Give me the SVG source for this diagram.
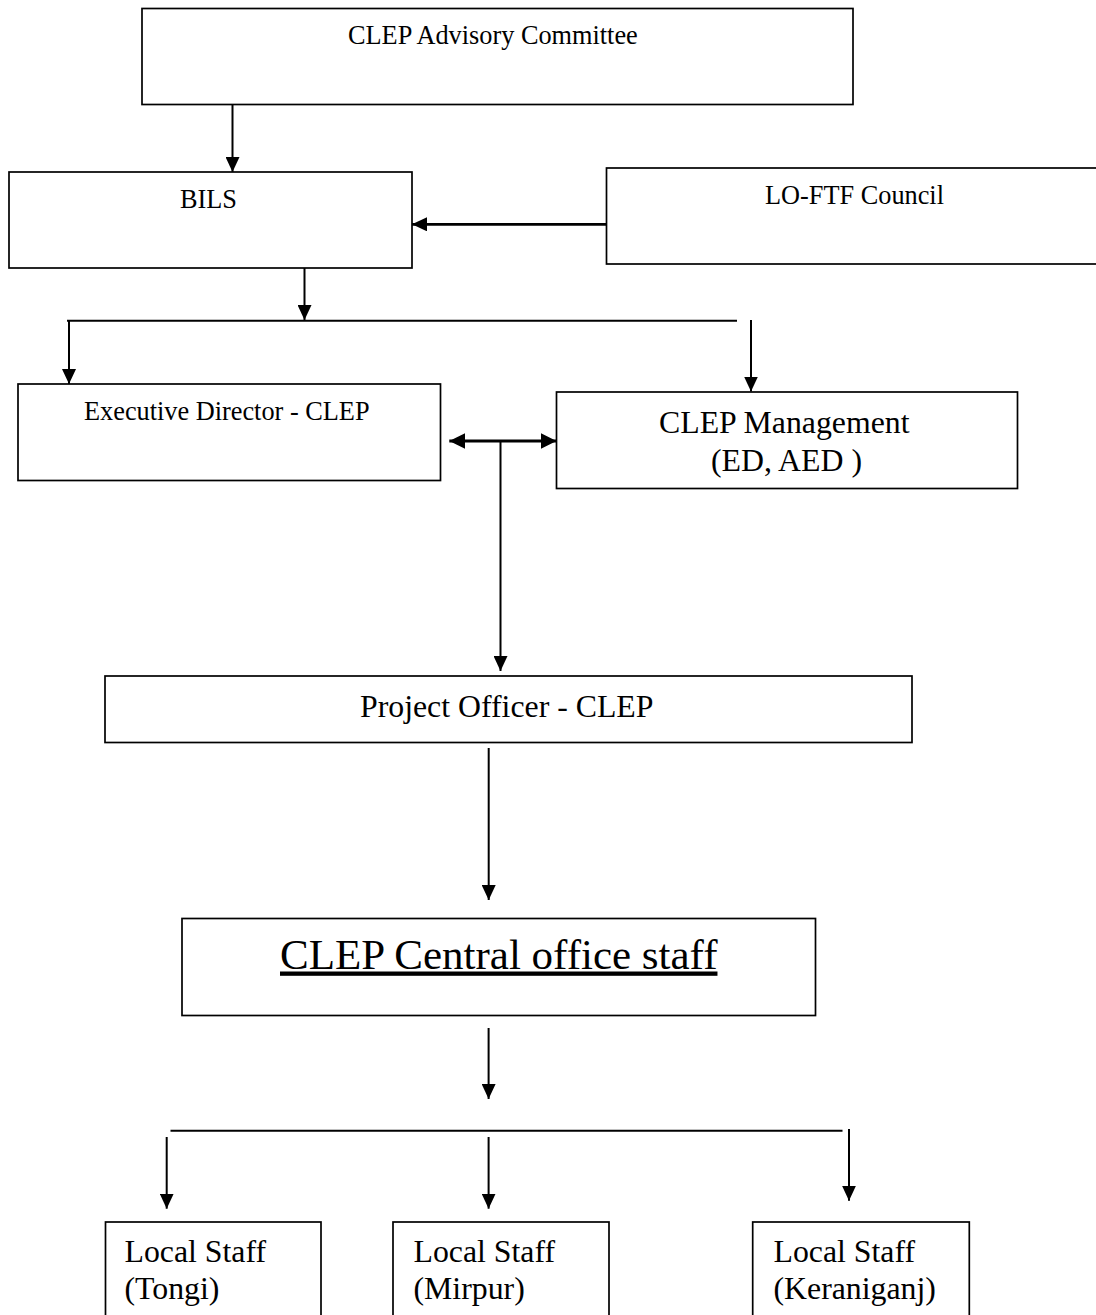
<svg xmlns="http://www.w3.org/2000/svg" width="1096" height="1315" viewBox="0 0 1096 1315">
<style>
.box{fill:#fff;stroke:#000;stroke-width:1.7}
.t{font-family:"Liberation Serif","Times New Roman",serif;fill:#000}
.s{font-size:26.3px}
.m{font-size:31.8px}
.l{font-size:43px}
.c{stroke:#000;stroke-width:2;fill:none}
.ct{stroke:#000;stroke-width:2.8;fill:none}
</style>
<defs>
<marker id="ah" markerUnits="userSpaceOnUse" markerWidth="15" markerHeight="14" refX="15" refY="7" orient="auto" viewBox="0 0 15 14">
<path d="M0,0 L15,7 L0,14 z" fill="#000"/>
</marker>
<marker id="ahb" markerUnits="userSpaceOnUse" markerWidth="16" markerHeight="16" refX="16" refY="8" orient="auto-start-reverse" viewBox="0 0 16 16">
<path d="M0,0 L16,8 L0,16 z" fill="#000"/>
</marker>
</defs>
<rect width="1096" height="1315" fill="#fff"/>
<g id="advisory">
<rect class="box" x="142" y="8.5" width="711" height="96"/>
<text class="t s" x="348" y="43.5">CLEP Advisory Committee</text>
</g>
<g id="bils">
<rect class="box" x="9" y="172" width="403" height="96"/>
<text class="t s" x="180" y="208">BILS</text>
</g>
<g id="loftf">
<rect class="box" x="606.5" y="168" width="520" height="96"/>
<text class="t s" x="765" y="204">LO-FTF Council</text>
</g>
<g id="ed">
<rect class="box" x="18" y="384" width="422.5" height="96.5"/>
<text class="t s" x="84" y="419.5">Executive Director - CLEP</text>
</g>
<g id="mgmt">
<rect class="box" x="556.5" y="392" width="461" height="96.5"/>
<text class="t m" x="659" y="432.5">CLEP Management</text>
<text class="t m" x="711" y="470.5">(ED, AED )</text>
</g>
<g id="po">
<rect class="box" x="105" y="676" width="807" height="66.5"/>
<text class="t m" x="360" y="716.5">Project Officer - CLEP</text>
</g>
<g id="central">
<rect class="box" x="182" y="918.5" width="633.5" height="97"/>
<text class="t l" x="280" y="968.5" text-decoration="underline">CLEP Central office staff</text>
</g>
<g id="tongi">
<rect class="box" x="105.5" y="1222" width="215.5" height="120"/>
<text class="t m" x="124.5" y="1262">Local Staff</text>
<text class="t m" x="124.5" y="1298.5">(Tongi)</text>
</g>
<g id="mirpur">
<rect class="box" x="393" y="1222" width="216" height="120"/>
<text class="t m" x="413.5" y="1262">Local Staff</text>
<text class="t m" x="413.5" y="1298.5">(Mirpur)</text>
</g>
<g id="keraniganj">
<rect class="box" x="752.7" y="1222" width="216.6" height="120"/>
<text class="t m" x="773.5" y="1262">Local Staff</text>
<text class="t m" x="773.5" y="1298.5">(Keraniganj)</text>
</g>
<g id="connectors">
<line class="c" x1="232.5" y1="104.5" x2="232.5" y2="172" marker-end="url(#ah)"/>
<line class="ct" x1="606.5" y1="224.3" x2="412" y2="224.3" marker-end="url(#ah)"/>
<line class="c" x1="304.5" y1="268" x2="304.5" y2="320" marker-end="url(#ah)"/>
<line class="c" x1="67" y1="320.7" x2="737" y2="320.7"/>
<line class="c" x1="69" y1="320" x2="69" y2="384" marker-end="url(#ah)"/>
<line class="c" x1="751" y1="320" x2="751" y2="391.5" marker-end="url(#ah)"/>
<line class="ct" x1="449.3" y1="441" x2="556.5" y2="441" marker-start="url(#ahb)" marker-end="url(#ahb)"/>
<line class="c" x1="500.5" y1="441" x2="500.5" y2="671" marker-end="url(#ah)"/>
<line class="c" x1="488.7" y1="748" x2="488.7" y2="900" marker-end="url(#ah)"/>
<line class="c" x1="488.6" y1="1028" x2="488.6" y2="1099" marker-end="url(#ah)"/>
<line class="c" x1="170.5" y1="1130.7" x2="842.5" y2="1130.7"/>
<line class="c" x1="166.7" y1="1137" x2="166.7" y2="1208.7" marker-end="url(#ah)"/>
<line class="c" x1="488.6" y1="1137" x2="488.6" y2="1208.7" marker-end="url(#ah)"/>
<line class="c" x1="849" y1="1129" x2="849" y2="1200.7" marker-end="url(#ah)"/>
</g>
</svg>
